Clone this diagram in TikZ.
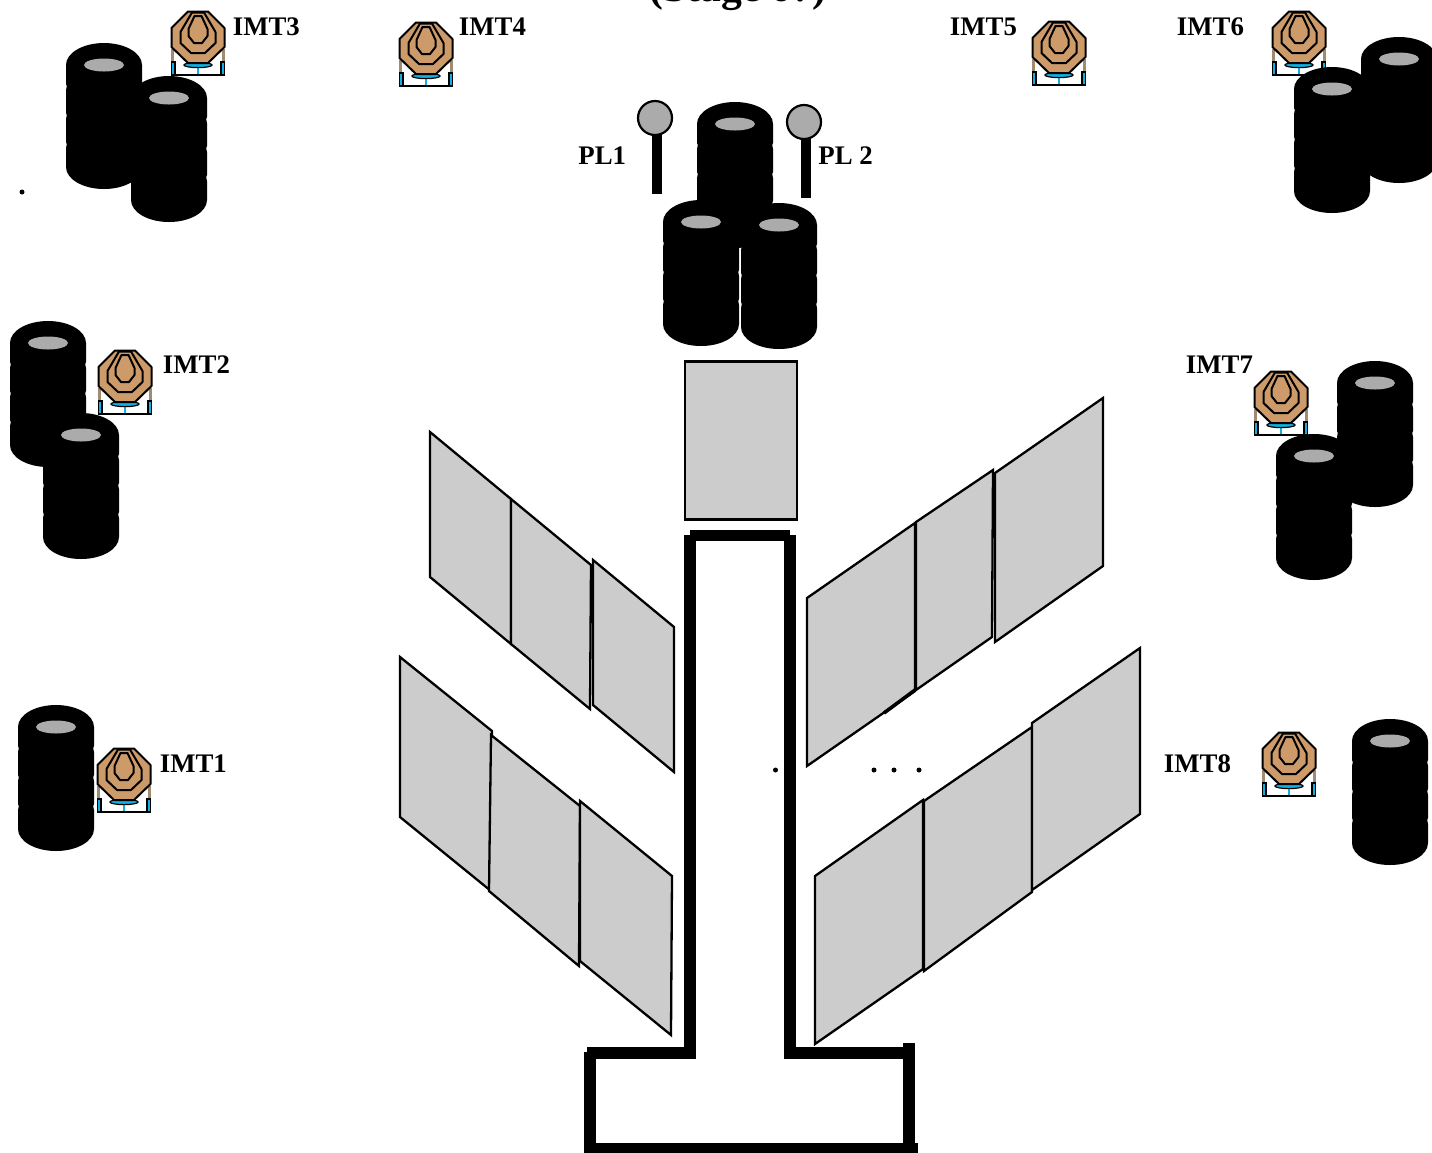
\documentclass[tikz,border=0pt]{standalone}
\usepackage{fontspec}
\setmainfont{Liberation Serif}
\definecolor{panelgray}{HTML}{CCCCCC}
\definecolor{holegray}{HTML}{ABABAB}
\definecolor{targetbrown}{HTML}{CD9B6A}
\definecolor{standblue}{HTML}{12B0E0}
\definecolor{standtan}{HTML}{A08A70}
\tikzset{
  panel/.style={fill=panelgray,draw=black,line width=1.15pt,line join=miter},
  wall/.style={fill=black},
  imtlabel/.style={font=\fontsize{13.4}{15}\selectfont\bfseries,anchor=base west,inner sep=0pt},
  targetline/.style={draw=black,line width=1pt,fill=targetbrown,line join=round},
  speck/.style={circle,fill=black,inner sep=0pt,minimum size=2.5pt}
}
\newcommand{\tyrestack}[2]{%
  \begin{scope}[shift={(#1,#2)}]
    \fill[black] (-38,0) -- (-38,19) -- (-37.2,21) -- (-38,25) -- (-38,48) -- (-37.2,50) -- (-38,54) -- (-38,77) -- (-37.2,79) -- (-38,83) -- (-38,102)
      -- (38,102) -- (38,83) -- (37.2,79) -- (38,77) -- (38,54) -- (37.2,50) -- (38,48) -- (38,25) -- (37.2,21) -- (38,19) -- (38,0) -- cycle;
    \fill[black] (0,0) circle[x radius=38,y radius=22];
    \fill[black] (0,102) circle[x radius=38,y radius=22];
    \fill[holegray] (0,0) circle[x radius=20,y radius=6.5];
  \end{scope}}
\newcommand{\targeticon}[2]{%
  \begin{scope}[shift={(#1,#2)}]
    \fill[standtan] (-27,38) rectangle (-24,53);
    \fill[standtan] (24,38) rectangle (27,53);
    \draw[black,line width=0.7pt,fill=standblue] (-26.5,51) rectangle (-23,64);
    \draw[black,line width=0.7pt,fill=standblue] (23,51) rectangle (26.5,64);
    \fill[standblue] (-1.2,55) rectangle (1.2,64);
    \draw[black,line width=0.6pt,fill=standblue] (0,54) circle[x radius=14,y radius=2.6];
    \draw[black,line width=1.3pt] (-27,64) -- (27,64);
    \draw[targetline] (-10,0.5) -- (10,0.5) -- (26.5,17) -- (26.5,36) -- (10,52) -- (-10,52) -- (-26.5,36) -- (-26.5,17) -- cycle;
    \draw[targetline] (-6,1.5) -- (6,1.5) -- (17.5,21) -- (17.5,32) -- (7,42) -- (-7,42) -- (-17.5,32) -- (-17.5,21) -- cycle;
    \draw[targetline] (-3.5,5) -- (3.5,5) -- (9.5,18) -- (9.5,25) -- (4,32) -- (-4,32) -- (-9.5,25) -- (-9.5,18) -- cycle;
  \end{scope}}
\begin{document}
\begin{tikzpicture}[x=0.5pt,y=-0.5pt]
\useasboundingbox (0,0) rectangle (1432,1153);
\clip (0,0) rectangle (1432,1153);

% title, cut by the top edge
\node[font=\fontsize{20.8}{23}\selectfont\bfseries,anchor=base,inner sep=0pt] (title) at (738,1.5) {(Stage 6?)};

% targets
\targeticon{198}{11}
\targeticon{426}{22}
\targeticon{1059}{21}
\targeticon{1299}{11}
\targeticon{125}{350}
\targeticon{1281}{371}
\targeticon{124}{748}
\targeticon{1289}{732}

% tyre stacks
\tyrestack{104}{65}
\tyrestack{169}{98}
\tyrestack{1399}{59}
\tyrestack{1332}{89}
\tyrestack{48}{343}
\tyrestack{81}{435}
\tyrestack{1375}{383}
\tyrestack{1314}{456}
\tyrestack{56}{727}
\tyrestack{1390}{741}
\tyrestack{735}{124}
\tyrestack{701}{222}
\tyrestack{779}{225}

% poles
\fill[black] (652,134) rectangle (662,194);
\draw[black,line width=1.1pt,fill=holegray] (655,118) circle[radius=17];
\fill[black] (801,138) rectangle (811,198);
\draw[black,line width=1.1pt,fill=holegray] (804,122) circle[radius=17];

% labels
\node[imtlabel] (imt3) at (232.5,35) {IMT3};
\node[imtlabel] (imt4) at (458.5,35) {IMT4};
\node[imtlabel] (imt5) at (949.5,35) {IMT5};
\node[imtlabel] (imt6) at (1176.5,35) {IMT6};
\node[imtlabel] (imt2) at (162.5,373) {IMT2};
\node[imtlabel] (imt7) at (1185.5,373) {IMT7};
\node[imtlabel] (imt1) at (159.5,772) {IMT1};
\node[imtlabel] (imt8) at (1163.5,772) {IMT8};
\node[imtlabel] (pl1) at (578,164) {PL1};
\node[imtlabel] (pl2) at (818,164) {PL 2};

% central rectangle
\draw[panel] (685,361.5) rectangle (797,519.5);

% left panels
\draw[panel] (430,432) -- (511,499) -- (511,644) -- (430,577) -- cycle;
\draw[panel] (511,499) -- (591,565) -- (590,709) -- (511,644) -- cycle;
\draw[panel] (593,560) -- (674,627) -- (674,772) -- (593,705) -- cycle;
\draw[panel] (400,657) -- (492,731) -- (491,891) -- (400,817) -- cycle;
\draw[panel] (491,735) -- (580,806) -- (579,966) -- (489,891) -- cycle;
\draw[panel] (580,801) -- (672,876) -- (671,1035) -- (580,961) -- cycle;

% right panels
\draw[panel] (807,598) -- (915,523) -- (915,691) -- (807,766) -- cycle;
\draw[panel] (916,522) -- (993,470) -- (992,637) -- (916,690) -- cycle;
\draw[panel] (995,473) -- (1103,398) -- (1103,566) -- (995,642) -- cycle;
\draw[black,line width=1.8pt] (884,713) -- (915,690);
\draw[panel] (815,876) -- (923,800) -- (923,969) -- (815,1044) -- cycle;
\draw[panel] (924,801) -- (1032,727) -- (1032,892) -- (924,971) -- cycle;
\draw[panel] (1032,723) -- (1140,648) -- (1140,814) -- (1032,890) -- cycle;

% T-shaped walls
\fill[wall] (690,530) rectangle (790,541);
\fill[wall] (684,535) rectangle (696,1059);
\fill[wall] (784,535) rectangle (795.5,1059);
\fill[wall] (587,1047) rectangle (696,1059);
\fill[wall] (784,1047) rectangle (915,1059);
\fill[wall] (583.5,1052) rectangle (595.5,1153);
\fill[wall] (903,1043) rectangle (915,1147);
\fill[wall] (583.5,1143) rectangle (918,1153);

% specks
\node[speck] (d0) at (22,192) {};
\node[speck] (d1) at (775.5,770) {};
\node[speck] (d2) at (874,770) {};
\node[speck] (d3) at (894,770) {};
\node[speck] (d4) at (919,770) {};
\end{tikzpicture}
\end{document}
